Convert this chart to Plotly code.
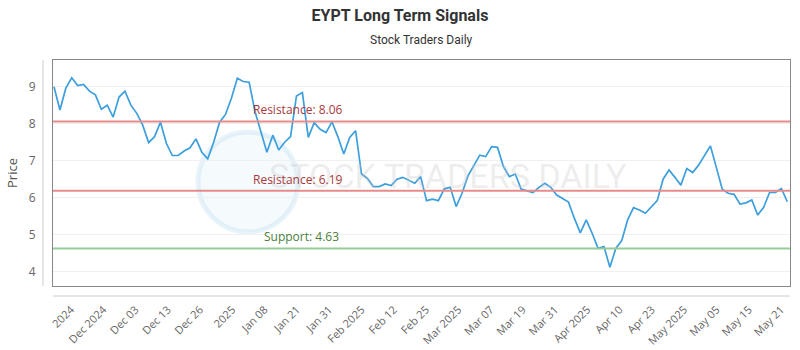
import numpy as np
import plotly.graph_objects as go

# ---- data ----
prices = [
    9.0, 8.37, 8.96, 9.24, 9.03, 9.06, 8.88, 8.78, 8.39, 8.5, 8.18, 8.72, 8.88, 8.5, 8.28, 7.96, 7.49, 7.65, 8.04, 7.47, 7.14,
    7.14, 7.26, 7.35, 7.59, 7.23, 7.05, 7.5, 8.04, 8.25, 8.69, 9.23, 9.14, 9.12, 8.32, 7.78, 7.23, 7.69, 7.29, 7.5, 7.65,
    8.75, 8.84, 7.63, 8.03, 7.85, 7.76, 8.05, 7.65, 7.18, 7.63, 7.81, 6.64, 6.52, 6.3, 6.3, 6.37, 6.33, 6.5, 6.55, 6.48, 6.39,
    6.57, 5.92, 5.96, 5.92, 6.24, 6.28, 5.76, 6.12, 6.59, 6.86, 7.15, 7.11, 7.38, 7.36, 6.84, 6.57, 6.64, 6.23, 6.18, 6.14,
    6.28, 6.39, 6.28, 6.07, 5.98, 5.88, 5.44, 5.05, 5.4, 5.04, 4.63, 4.68, 4.12, 4.63, 4.84, 5.4, 5.73, 5.67, 5.58, 5.74, 5.92,
    6.5, 6.75, 6.55, 6.34, 6.79, 6.68, 6.88, 7.13, 7.4, 6.82, 6.23, 6.12, 6.09, 5.83, 5.86, 5.94, 5.53, 5.74, 6.14, 6.14, 6.25, 5.89,
]
tick_labels = ["2024", "Dec 2024", "Dec 03", "Dec 13", "Dec 26", "2025", "Jan 08", "Jan 21", "Jan 31",
               "Feb 2025", "Feb 12", "Feb 25", "Mar 2025", "Mar 07", "Mar 19", "Mar 31", "Apr 2025",
               "Apr 10", "Apr 23", "May 2025", "May 05", "May 15", "May 21"]
resistance_levels = [8.06, 6.19]
support_levels = [4.63]

n = len(prices)
x = list(range(n))

# layout geometry (pixels)
L, R, T, B = 53, 10, 60, 64
W, H = 800, 350
pw = W - L - R
ph = H - T - B
px_per_pt = (787.3 - 54) / (n - 1)
x0 = -(54 - L) / px_per_pt
x1 = (n - 1) + (W - R - 787.3) / px_per_pt
y_top, y_bot = 9 + (86.7 - T) / 37.0, 4 - (H - B - 271.7) / 37.0

tickvals = np.linspace((71 - 54) / px_per_pt, (781 - 54) / px_per_pt, len(tick_labels))

fig = go.Figure()
fig.add_trace(go.Scatter(x=x, y=prices, mode="lines",
                         line=dict(color="#3d9fdc", width=1.7), hoverinfo="skip", showlegend=False))

def px2paper_x(p):
    return (p - L) / pw

def px2paper_y(p):
    return (H - B - p) / ph

shapes = []
# watermark circle
cx, cy, r = 248, 182, 50
shapes.append(dict(type="circle", xref="paper", yref="paper", layer="below",
                   x0=px2paper_x(cx - r), x1=px2paper_x(cx + r),
                   y0=px2paper_y(cy + r), y1=px2paper_y(cy - r),
                   fillcolor="rgba(120,185,225,0.07)", line=dict(color="rgba(150,200,230,0.22)", width=5)))
for lvl in resistance_levels:
    shapes.append(dict(type="line", xref="paper", yref="y", x0=0, x1=1, y0=lvl, y1=lvl,
                       line=dict(color="#e88b8b", width=2)))
for lvl in support_levels:
    shapes.append(dict(type="line", xref="paper", yref="y", x0=0, x1=1, y0=lvl, y1=lvl,
                       line=dict(color="#97cc97", width=2)))
# offset axis lines
shapes.append(dict(type="line", xref="paper", yref="paper", x0=px2paper_x(43), x1=px2paper_x(43),
                   y0=0, y1=1, line=dict(color="#cccccc", width=1)))
shapes.append(dict(type="line", xref="paper", yref="paper", x0=0, x1=1,
                   y0=px2paper_y(296), y1=px2paper_y(296), line=dict(color="#cccccc", width=1)))

annotations = []
annotations.append(dict(xref="paper", yref="paper", x=px2paper_x(448), y=px2paper_y(176),
                        xanchor="center", yanchor="middle",
                        text="STOCK TRADERS DAILY", showarrow=False,
                        font=dict(family="Roboto", size=34, color="rgba(200,200,200,0.32)")))
for lvl in resistance_levels:
    annotations.append(dict(xref="paper", yref="y", x=px2paper_x(298), y=lvl, xanchor="center",
                            yanchor="bottom", yshift=1,
                            text=f"Resistance: {lvl:.2f}", showarrow=False,
                            font=dict(family="Open Sans", size=12, color="#a83a3a")))
for lvl in support_levels:
    annotations.append(dict(xref="paper", yref="y", x=px2paper_x(301), y=lvl, xanchor="center",
                            yanchor="bottom", yshift=1,
                            text=f"Support: {lvl:.2f}", showarrow=False,
                            font=dict(family="Open Sans", size=12, color="#4a8040")))
annotations.append(dict(xref="paper", yref="paper", x=0.5, y=px2paper_y(40), xanchor="center",
                        yanchor="middle",
                        text="Stock Traders Daily", showarrow=False,
                        font=dict(family="Roboto", size=12, color="#333")))

fig.update_layout(
    width=W, height=H,
    margin=dict(l=L, r=R, t=T, b=B, autoexpand=False),
    paper_bgcolor="white", plot_bgcolor="white",
    title=dict(text="<b>EYPT Long Term Signals</b>", x=0.5, xanchor="center", y=1 - 15 / H, yanchor="middle",
               font=dict(family="Roboto", size=16, color="#333")),
    xaxis=dict(range=[x0, x1], tickvals=tickvals, ticktext=tick_labels, tickangle=-45, automargin=False,
               showgrid=False, zeroline=False, showline=True, linecolor="#888", mirror=True,
               ticks="outside", ticklen=12, tickcolor="rgba(0,0,0,0)",
               tickfont=dict(family="Open Sans", size=11, color="#666")),
    yaxis=dict(range=[y_bot, y_top], tickvals=[4, 5, 6, 7, 8, 9], showgrid=True, gridcolor="#f0f0f0",
               zeroline=False, showline=True, linecolor="#888", mirror=True, automargin=False,
               ticks="outside", ticklen=14, tickcolor="rgba(0,0,0,0)",
               tickfont=dict(family="Open Sans", size=12, color="#666"),
               title=dict(text="Price", font=dict(family="Open Sans", size=13, color="#555"), standoff=8)),
    shapes=shapes, annotations=annotations,
)

fig.write_html("out.html")
